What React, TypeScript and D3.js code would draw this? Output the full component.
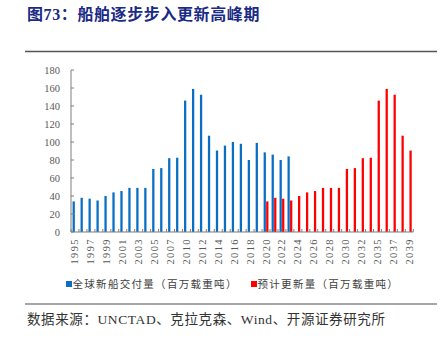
import React from "react";
import * as d3 from "d3";

const years: string[] = [
  "1995","1996","1997","1998","1999","2000","2001","2002","2003","2004","2005","2006","2007","2008",
  "2010","2011","2012","2013","2014","2015","2016","2017","2018","2019","2020","2021","2022","2023",
  "2024","2025","2026","2027","2028","2029","2030","2031","2032","2033","2035","2036","2037","2038","2039",
];

const deliveryYears: string[] = [
  "1995","1996","1997","1998","1999","2000","2001","2002","2003","2004","2005","2006","2007","2008",
  "2010","2011","2012","2013","2014","2015","2016","2017","2018","2019","2020","2021","2022","2023",
];
const deliveryValues: number[] = [
  34, 38, 37, 35, 40, 44, 45.5, 49, 49, 49, 70, 71, 82, 82.5,
  146, 159, 152.5, 107, 90.5, 96, 100, 98, 80, 99, 88.5, 86, 80, 84,
];

const renewalYears: string[] = [
  "2020","2021","2022","2023","2024","2025","2026","2027","2028","2029","2030","2031","2032","2033",
  "2035","2036","2037","2038","2039",
];
const renewalValues: number[] = [
  34, 38, 37, 35, 40, 44, 45.5, 49, 49, 49, 70, 71, 82, 82.5,
  146, 159, 152.5, 107, 90.5,
];

const yTicks: number[] = [0, 20, 40, 60, 80, 100, 120, 140, 160, 180];
const seriesKeys: string[] = ["delivery", "renewal"];
const seriesNames: string[] = ["全球新船交付量（百万载重吨）", "预计更新量（百万载重吨）"];
const seriesColors: string[] = ["#0a6fc2", "#ff0000"];

const titleText = "图73：船舶逐步步入更新高峰期";
const sourceText = "数据来源：UNCTAD、克拉克森、Wind、开源证券研究所";

const W = 447;
const H = 342;
const plot = { left: 71, right: 413.3, top: 70, bottom: 232 };

export default function App() {
  const x = d3.scaleBand<string>().domain(years).range([plot.left, plot.right]).padding(0);
  const inner = d3
    .scaleBand<string>()
    .domain(seriesKeys)
    .range([0, x.bandwidth()])
    .paddingInner(0.1)
    .paddingOuter(0.62);
  const y = d3.scaleLinear().domain([0, 180]).range([plot.bottom, plot.top]);

  const serif = "'Liberation Serif', 'Times New Roman', serif";
  const mixed = "'Liberation Serif', 'Noto Sans CJK SC', serif";
  const axisColor = "#7f7f7f";
  const textColor = "#595959";

  const bars = [
    { key: "delivery", ys: deliveryYears, vs: deliveryValues, color: seriesColors[0] },
    { key: "renewal", ys: renewalYears, vs: renewalValues, color: seriesColors[1] },
  ];

  const boundaries = years.map((yr) => x(yr)!).concat([plot.right]);

  return (
    <svg
      width={W}
      height={H}
      style={{ position: "absolute", left: 0, top: 0, background: "#fff" }}
    >
      <rect x={0} y={0} width={W} height={H} fill="#fff" />
      <text
        x={27}
        y={20}
        fontFamily={mixed}
        fontWeight={700}
        fontSize={16}
        letterSpacing={0.6}
        fill="#1b2a85"
      >
        {titleText}
      </text>
      <line x1={25} x2={437} y1={51.5} y2={51.5} stroke="#555" strokeWidth={1.5} />

      {/* bars */}
      {bars.map((s) =>
        s.ys.map((yr, i) => (
          <rect
            key={s.key + yr}
            x={x(yr)! + inner(s.key)!}
            y={y(s.vs[i])}
            width={inner.bandwidth()}
            height={y(0) - y(s.vs[i])}
            fill={s.color}
          />
        ))
      )}

      {/* y axis */}
      <line x1={plot.left} x2={plot.left} y1={plot.top} y2={plot.bottom} stroke={axisColor} strokeWidth={1} />
      {yTicks.map((t) => (
        <g key={"yt" + t}>
          <line x1={plot.left} x2={plot.left + 3} y1={y(t)} y2={y(t)} stroke={axisColor} strokeWidth={1} />
          <text
            x={60}
            y={y(t)}
            dy="0.35em"
            textAnchor="end"
            fontFamily={serif}
            fontSize={10.5}
            fill={textColor}
          >
            {t}
          </text>
        </g>
      ))}

      {/* x axis */}
      <line x1={plot.left} x2={plot.right} y1={plot.bottom} y2={plot.bottom} stroke={axisColor} strokeWidth={1.2} />
      {boundaries.map((bx, i) => (
        <line key={"xt" + i} x1={bx} x2={bx} y1={plot.bottom} y2={plot.bottom - 3} stroke={axisColor} strokeWidth={1} />
      ))}
      {years.map((yr, i) =>
        i % 2 === 0 ? (
          <text
            key={"xl" + yr}
            transform={`translate(${x(yr)! + x.bandwidth() / 2 + 3.5},${plot.bottom + 6}) rotate(-90)`}
            textAnchor="end"
            fontFamily={serif}
            fontSize={10.5}
            letterSpacing={1.4}
            fill={textColor}
          >
            {yr}
          </text>
        ) : null
      )}

      {/* legend */}
      <rect x={66} y={281} width={6} height={6} fill={seriesColors[0]} />
      <text x={72.5} y={288} fontFamily={mixed} fontSize={10.5} letterSpacing={1.3} fill="#404040">
        {seriesNames[0]}
      </text>
      <rect x={251} y={281} width={6} height={6} fill={seriesColors[1]} />
      <text x={257.5} y={288} fontFamily={mixed} fontSize={10.5} letterSpacing={1.3} fill="#404040">
        {seriesNames[1]}
      </text>

      <line x1={25} x2={437} y1={304} y2={304} stroke="#888" strokeWidth={1.5} />
      <text x={27} y={324} fontFamily={mixed} fontSize={13.5} letterSpacing={0.6} fill="#333">
        {sourceText}
      </text>
    </svg>
  );
}
